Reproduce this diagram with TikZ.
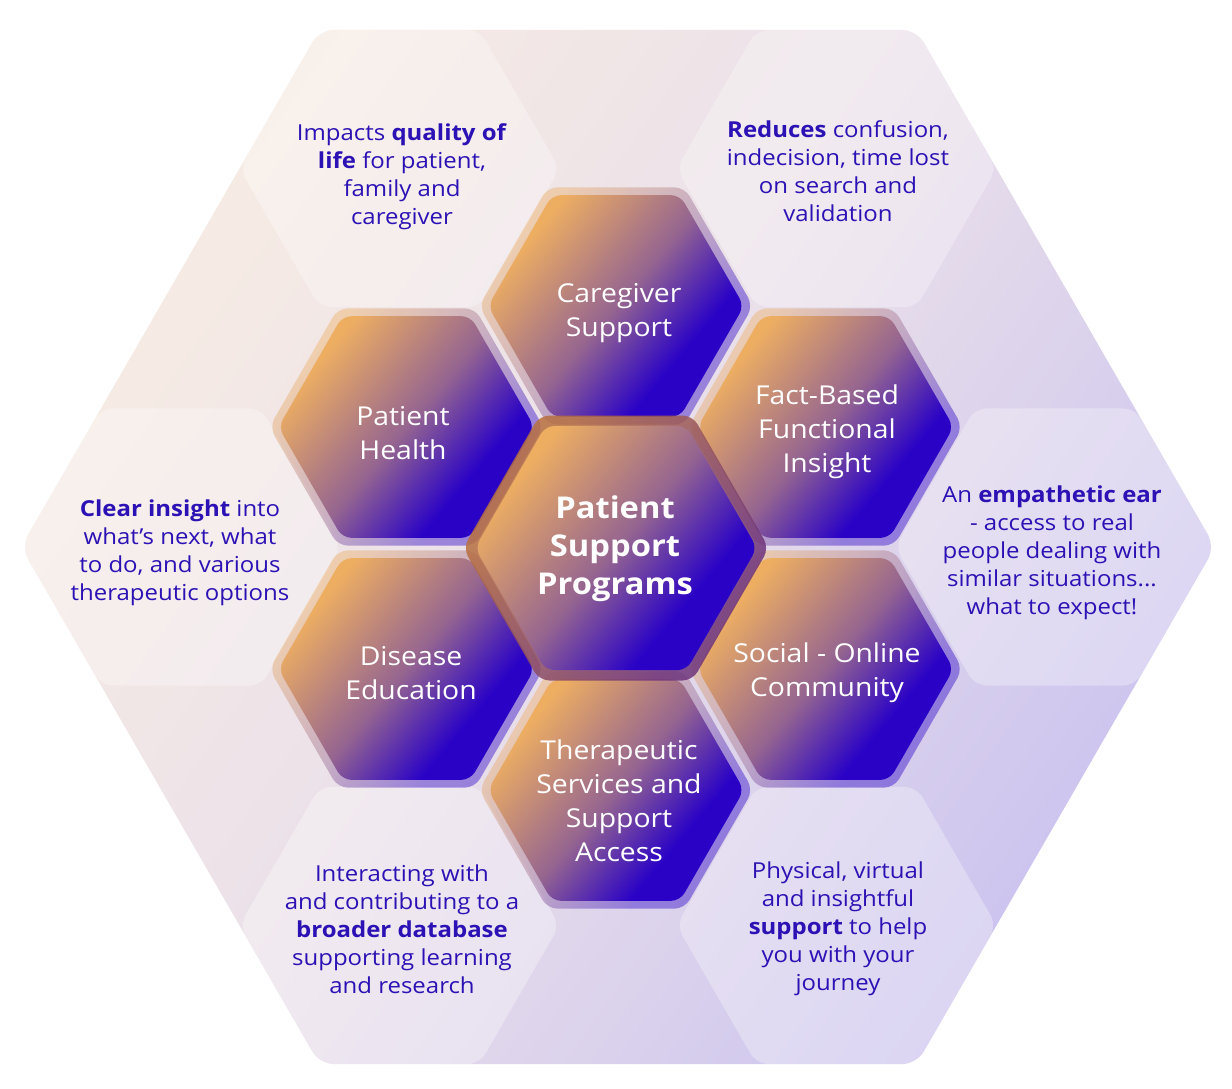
\documentclass[tikz,border=0pt]{standalone}
\usepackage{fontspec}
\setmainfont{Open Sans}[FakeStretch=1.09]
\definecolor{hexor}{HTML}{EDAE62}
\definecolor{hexmid}{HTML}{956590}
\definecolor{hexbl}{HTML}{2A02C6}
\definecolor{rimA}{HTML}{B8703F}
\definecolor{rimB}{HTML}{6E347C}
\definecolor{bgA}{HTML}{F7ECE3}
\definecolor{bgM}{HTML}{E9DFEA}
\definecolor{bgB}{HTML}{CBC3EF}
\definecolor{txt}{HTML}{2C12B4}
\pgfdeclarehorizontalshading{hexsh}{100bp}{color(0bp)=(hexor); color(27bp)=(hexor); color(50bp)=(hexmid); color(67bp)=(hexbl); color(100bp)=(hexbl)}
\pgfdeclarehorizontalshading{rimsh}{100bp}{color(0bp)=(rimA); color(30bp)=(rimA); color(70bp)=(rimB); color(100bp)=(rimB)}
\pgfdeclarehorizontalshading{bgsh}{100bp}{color(0bp)=(bgA); color(25bp)=(bgA); color(50bp)=(bgM); color(75bp)=(bgB); color(100bp)=(bgB)}
% hexagon with flat top/bottom: #1 centre, #2 radius, #3 options
\newcommand\hexat[3]{\path[shift={(#1)},#3] (0:#2) -- (60:#2) -- (120:#2) -- (180:#2) -- (240:#2) -- (300:#2) -- cycle;}
\tikzset{
  bighex/.style={shade, shading=bgsh, shading angle=-35, rounded corners=14pt},
  tile/.style={fill=white, fill opacity=0.3, rounded corners=12pt},
  hexrim/.style={shade, shading=hexsh, shading angle=-40, opacity=0.42, rounded corners=10pt},
  hexbody/.style={shade, shading=hexsh, shading angle=-40, rounded corners=9pt},
  cenrim/.style={shade, shading=rimsh, shading angle=-40, opacity=0.85, rounded corners=10pt},
  desc/.style={text=txt, align=center, font=\fontsize{22}{28}\selectfont},
  lab/.style={text=white, align=center, font=\fontsize{26}{34}\selectfont},
  cenlab/.style={text=white, align=center, font=\bfseries\fontsize{30}{38}\selectfont}
}
\begin{document}
\begin{tikzpicture}[x=1pt,y=-1pt]
\useasboundingbox (0,0) rectangle (1232,1088);
\fill[white] (0,0) rectangle (1232,1088);
% background honeycomb
\hexat{618,547}{597}{bighex}
\foreach \a in {0,60,...,300}{\hexat{618,547}{160}{shift={(\a:437)},tile}}
% outer hexagons
\foreach \cx/\cy in {616/306, 406.4/427, 825.6/427, 406.4/669, 825.6/669, 616/790}{
  \hexat{\cx,\cy}{137}{hexrim}
  \hexat{\cx,\cy}{128}{hexbody}
}
% centre hexagon
\hexat{616,548}{153}{cenrim}
\hexat{616,548}{141}{hexbody}
% labels in hexagons
\node[lab] (care) at (619,313) {Caregiver\\Support};
\node[lab] (health) at (403,433) {Patient\\Health};
\node[lab] (fact) at (827,432) {Fact-Based\\Functional\\Insight};
\node[cenlab] (psp) at (615,549) {Patient\\Support\\Programs};
\node[lab] (disease) at (411,673) {Disease\\Education};
\node[lab] (social) at (827,673) {Social - Online\\Community};
\node[lab] (thera) at (619,801) {Therapeutic\\Services and\\Support\\Access};
% descriptions
\node[desc] (dImpacts) at (402,177) {Impacts \textbf{quality of}\\\textbf{life} for patient,\\family and\\caregiver};
\node[desc] (dReduces) at (838,171) {\textbf{Reduces} confusion,\\indecision, time lost\\on search and\\validation};
\node[desc] (dClear) at (180,553) {\textbf{Clear insight} into\\what’s next, what\\to do, and various\\therapeutic options};
\node[desc] (dEar) at (1052,553) {An \textbf{empathetic ear}\\- access to real\\people dealing with\\similar situations...\\what to expect!};
\node[desc] (dInter) at (402,929) {Interacting with\\and contributing to a\\\textbf{broader database}\\supporting learning\\and research};
\node[desc] (dPhys) at (838,929) {Physical, virtual\\and insightful\\\textbf{support} to help\\you with your\\journey};
\end{tikzpicture}
\end{document}
